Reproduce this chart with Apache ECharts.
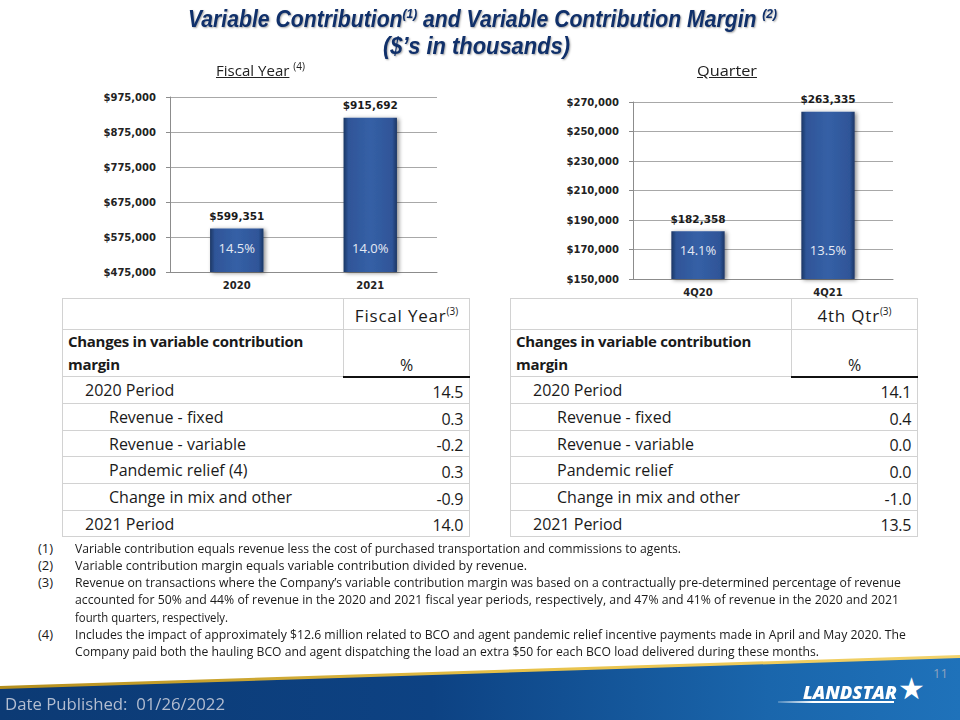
<!DOCTYPE html>
<html><head><meta charset="utf-8">
<script src="https://cdn.jsdelivr.net/npm/echarts@6/dist/echarts.min.js"></script>
<style>
html,body{margin:0;padding:0;}
body{width:960px;height:720px;position:relative;overflow:hidden;background:#fff;font-family:"Open Sans",sans-serif;}
.abs{position:absolute;white-space:nowrap;}
.fit{display:inline-block;transform-origin:left center;}
#chart{position:absolute;left:0;top:0;width:960px;height:300px;}
.title{color:#10306a;font-family:"Liberation Sans",Arial,sans-serif;font-weight:700;font-style:italic;font-size:23px;line-height:23px;text-shadow:1px 1px 2px rgba(0,0,0,0.35);}
.title sup{font-size:13px;line-height:0;vertical-align:9px;}
.sub{font-size:15px;color:#222;line-height:18px;}
.sub sup{font-size:10px;line-height:0;vertical-align:6px;}
table.vc{position:absolute;border-collapse:collapse;table-layout:fixed;color:#1a1a1a;font-family:"Open Sans",sans-serif;}
table.vc td{padding:0;white-space:nowrap;overflow:hidden;border-top:1px solid #d2d2d2;border-bottom:1px solid #d2d2d2;}
table.vc td.l{border-left:1px solid #d2d2d2;}
table.vc td.r{border-right:1px solid #d2d2d2;}
table.vc td.hd{border-left:1px solid #d2d2d2;border-right:1px solid #d2d2d2;}
.hcol{font-size:17px;letter-spacing:0.8px;text-align:center;vertical-align:bottom;padding-bottom:2px !important;}
.hcol sup{font-size:10px;vertical-align:7px;line-height:0;letter-spacing:0;}
.chg{font-weight:700;font-size:15px;letter-spacing:-0.3px;line-height:23px;padding-left:5px !important;vertical-align:top;}
.pct{font-size:16px;text-align:center;vertical-align:bottom;border-bottom:2px solid #111 !important;}
.lab{font-size:16px;vertical-align:middle;}
.val{font-size:16px;text-align:right;vertical-align:bottom;padding-right:6px !important;letter-spacing:-0.3px;}
.fn{font-size:13px;color:#1a1a1a;line-height:17px;}
</style></head>
<body>
<div id="chart"></div>

<div id="t1" class="abs title fit" style="left:188px;top:8px;">Variable Contribution<sup>(1)</sup> and Variable Contribution Margin <sup>(2)</sup></div>
<div id="t2" class="abs title fit" style="left:383px;top:35px;">($’s in thousands)</div>
<div id="s1" class="abs sub fit" style="left:216px;top:61px;"><u>Fiscal Year</u> <sup>(4)</sup></div>
<div id="s2" class="abs sub fit" style="left:697px;top:61px;"><u>Quarter</u></div>

<table id="tab1" class="vc" style="left:62px;top:298px;width:407px;"></table>
<table id="tab2" class="vc" style="left:510px;top:298px;width:408px;"></table>

<div id="footnotes"></div>

<div class="abs" style="left:0;top:640px;width:960px;height:80px;background:linear-gradient(90deg,#b48e1c,#e8c24a 55%,#f3d36c);clip-path:polygon(0 46px,960px 15px,960px 80px,0 80px);"></div>
<div class="abs" style="left:0;top:640px;width:960px;height:80px;background:linear-gradient(90deg,#0c3a74 0%,#0d4283 45%,#1a66ac 80%,#1f72ba 100%);clip-path:polygon(0 49px,960px 18px,960px 80px,0 80px);"></div>
<div id="dp" class="abs fit" style="left:5px;top:693px;font-size:17px;line-height:22px;color:#b3bdd0;">Date Published:&nbsp; 01/26/2022</div>
<div class="abs" style="left:933px;top:665px;font-size:13px;line-height:16px;color:#8ea2bf;">11</div>
<div class="abs" style="left:778px;top:701px;width:116px;height:2px;background:linear-gradient(90deg,rgba(255,255,255,0.2),#fff 30%);"></div>
<div id="logo" class="abs fit" style="left:803px;top:683px;font-size:17px;line-height:20px;font-weight:800;font-style:italic;color:#fff;">LANDSTAR</div>
<div class="abs" style="left:898px;top:672px;font-size:30px;line-height:32px;color:#fff;">★</div>

<script>
// ---------- data ----------
const fyCategories = ['2020', '2021'];
const fyValues = [599351, 915692];
const fyMargins = ['14.5%', '14.0%'];

const qCategories = ['4Q20', '4Q21'];
const qValues = [182358, 263335];
const qMargins = ['14.1%', '13.5%'];

const fyRowLabels = ['2020 Period', 'Revenue - fixed', 'Revenue - variable', 'Pandemic relief (4)', 'Change in mix and other', '2021 Period'];
const fyChanges = ['14.5', '0.3', '-0.2', '0.3', '-0.9', '14.0'];
const qRowLabels = ['2020 Period', 'Revenue - fixed', 'Revenue - variable', 'Pandemic relief', 'Change in mix and other', '2021 Period'];
const qChanges = ['14.1', '0.4', '0.0', '0.0', '-1.0', '13.5'];
const rowLevels = [1, 2, 2, 2, 2, 1];

const footnoteNums = ['(1)', '(2)', '(3)', '', '', '(4)', ''];
const footnoteLines = [
  'Variable contribution equals revenue less the cost of purchased transportation and commissions to agents.',
  'Variable contribution margin equals variable contribution divided by revenue.',
  'Revenue on transactions where the Company’s variable contribution margin was based on a contractually pre-determined percentage of revenue',
  'accounted for 50% and 44% of revenue in the 2020 and 2021 fiscal year periods, respectively, and 47% and 41% of revenue in the 2020 and 2021',
  'fourth quarters, respectively.',
  'Includes the impact of approximately $12.6 million related to BCO and agent pandemic relief incentive payments made in April and May 2020. The',
  'Company paid both the hauling BCO and agent dispatching the load an extra $50 for each BCO load delivered during these months.'
];
const footnoteWidths = [606, 452, 826, 824, 153, 831, 744];

// ---------- chart ----------
const chart = echarts.init(document.getElementById('chart'), null, {renderer: 'svg'});
function money(v) { return '$' + Number(v).toLocaleString('en-US'); }
const axisFont = {fontFamily: 'DejaVu Sans', fontWeight: 'bold', fontSize: 10, color: '#222'};
const axisGray = '#8c8c8c';
const barStyle = {
  color: {type: 'linear', x: 0, y: 0, x2: 1, y2: 0, colorStops: [
    {offset: 0, color: '#1b3664'}, {offset: 0.09, color: '#2f5598'},
    {offset: 0.5, color: '#3560a6'}, {offset: 0.91, color: '#2f5598'}, {offset: 1, color: '#1b3664'}]},
  shadowColor: 'rgba(0,0,0,0.45)', shadowBlur: 4, shadowOffsetX: 2, shadowOffsetY: 1
};
function xAx(idx, data) {
  return {type: 'category', gridIndex: idx, data: data,
    axisLine: {lineStyle: {color: axisGray}}, axisTick: {length: 4, lineStyle: {color: axisGray}},
    axisLabel: Object.assign({margin: 8}, axisFont)};
}
function yAx(idx, min, max, step, margin) {
  return {type: 'value', gridIndex: idx, min: min, max: max, interval: step,
    axisLine: {show: true, lineStyle: {color: axisGray}}, axisTick: {show: true, length: 4, lineStyle: {color: axisGray}},
    splitLine: {lineStyle: {color: '#a8a8a8'}},
    axisLabel: Object.assign({margin: margin, formatter: money}, axisFont)};
}
function valueSeries(idx, data, w, dist) {
  return {type: 'bar', xAxisIndex: idx, yAxisIndex: idx, data: data, barWidth: w, barGap: '-100%',
    itemStyle: barStyle,
    label: {show: true, position: 'top', distance: dist, formatter: p => money(p.value),
      fontFamily: 'DejaVu Sans', fontWeight: 'bold', fontSize: 10.5, color: '#1a1a1a'}};
}
function marginSeries(idx, data, labels, w, dist) {
  return {type: 'bar', xAxisIndex: idx, yAxisIndex: idx, data: data, barWidth: w, barGap: '-100%', silent: true, z: 5,
    itemStyle: {color: 'rgba(0,0,0,0)'},
    label: {show: true, position: 'insideBottom', distance: dist, formatter: p => labels[p.dataIndex],
      fontFamily: 'Open Sans', fontSize: 13, color: '#e4e9f4'}};
}
chart.setOption({
  animation: false,
  grid: [{left: 170, top: 97, width: 267, height: 175}, {left: 633, top: 102, width: 260, height: 177}],
  xAxis: [xAx(0, fyCategories), xAx(1, qCategories)],
  yAxis: [yAx(0, 475000, 975000, 100000, 14), yAx(1, 150000, 270000, 20000, 14)],
  series: [
    valueSeries(0, fyValues, '40%', 7), marginSeries(0, fyValues, fyMargins, '40%', 18),
    valueSeries(1, qValues, '41%', 7), marginSeries(1, qValues, qMargins, '41%', 23)
  ]
});

// ---------- tables ----------
function buildTable(id, header, labels, values) {
  const t = document.getElementById(id);
  let h = '<colgroup><col style="width:281px"><col style="width:126px"></colgroup>';
  h += '<tr style="height:31px"><td class="hd"></td><td class="hd hcol">' + header + '<sup>(3)</sup></td></tr>';
  h += '<tr style="height:46px"><td class="hd chg">Changes in variable contribution<br>margin</td><td class="hd pct">%</td></tr>';
  const hs = [27, 27, 26, 27, 27, 26];
  labels.forEach((lab, i) => {
    const pad = rowLevels[i] === 1 ? 22 : 46;
    h += '<tr style="height:' + hs[i] + 'px"><td class="l lab" style="padding-left:' + pad + 'px">' + lab +
         '</td><td class="r val">' + values[i] + '</td></tr>';
  });
  t.innerHTML = h;
}
buildTable('tab1', 'Fiscal Year', fyRowLabels, fyChanges);
buildTable('tab2', '4th Qtr', qRowLabels, qChanges);

// ---------- footnotes ----------
const fnBox = document.getElementById('footnotes');
footnoteLines.forEach((txt, i) => {
  const y = 548 + i * 17.3 - 8.5;
  if (footnoteNums[i]) {
    const n = document.createElement('div');
    n.className = 'abs fn'; n.style.left = '38px'; n.style.top = y + 'px'; n.textContent = footnoteNums[i];
    fnBox.appendChild(n);
  }
  const d = document.createElement('div');
  d.className = 'abs fn fit'; d.id = 'fn' + i; d.style.left = '75px'; d.style.top = y + 'px'; d.textContent = txt;
  fnBox.appendChild(d);
});

// ---------- fit text widths ----------
function fit(id, w) {
  const el = document.getElementById(id);
  const cw = el.getBoundingClientRect().width;
  if (cw > 0) el.style.transform = 'scaleX(' + (w / cw) + ')';
}
function fitAll() {
  fit('t1', 589); fit('t2', 187); fit('s1', 89); fit('s2', 60);
  fit('dp', 220); fit('logo', 94);
  footnoteWidths.forEach((w, i) => fit('fn' + i, w));
}
fitAll();
</script>
</body></html>
